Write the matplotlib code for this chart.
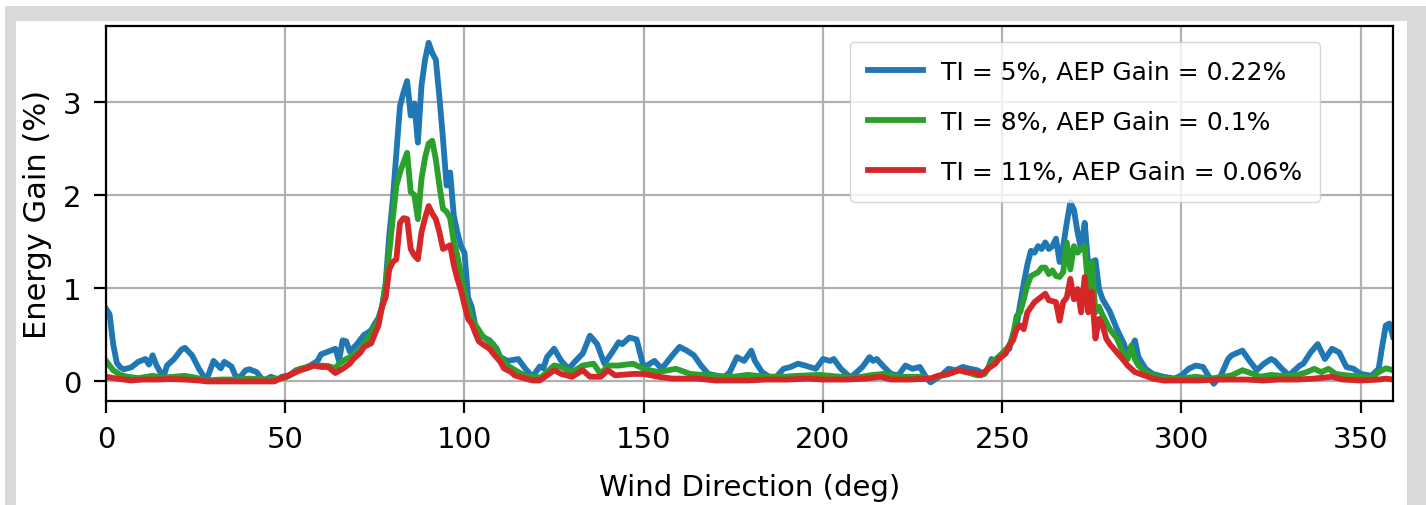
#!/usr/bin/env python3

import matplotlib
matplotlib.use("Agg")
import matplotlib.pyplot as plt
from matplotlib.patches import Rectangle


WIDTH_PX = 1426
HEIGHT_PX = 506

# Energy gain (%) per wind direction (deg), one series per turbulence intensity
TI5_DIR = [
    0, 1, 2, 3, 4, 5, 7, 9, 11, 12, 13, 14, 16, 17, 19, 21, 22, 24, 26, 28,
    30, 32, 33, 35, 36, 37, 39, 40, 42, 43, 44, 46, 48, 49, 51, 53, 55, 57,
    59, 60, 62, 64, 65, 66, 67, 68, 70, 72, 73, 74, 75, 76, 77, 78, 79, 80,
    81, 82, 83, 84, 85, 86, 87, 88, 89, 90, 91, 92, 93, 94, 95, 96, 97, 98,
    99, 100, 101, 102, 103, 104, 105, 107, 109, 110, 112, 115, 117, 119, 121,
    122, 123, 125, 127, 129, 131, 133, 135, 137, 139, 141, 143, 144, 146, 148,
    150, 153, 155, 158, 160, 162, 164, 166, 168, 170, 172, 174, 176, 178, 180,
    181, 183, 185, 187, 189, 191, 193, 195, 198, 200, 202, 203, 205, 207, 208,
    211, 213, 214, 215, 217, 219, 221, 223, 225, 227, 229, 230, 233, 235, 237,
    239, 241, 243, 245, 246, 247, 248, 250, 252, 253, 254, 255, 256, 257, 258,
    259, 260, 261, 262, 263, 264, 265, 266, 267, 268, 269, 270, 271, 272, 273,
    274, 275, 276, 277, 278, 280, 282, 284, 285, 286, 287, 288, 290, 292, 295,
    298, 300, 302, 304, 306, 308, 309, 311, 313, 314, 317, 319, 321, 323, 325,
    326, 328, 330, 333, 334, 336, 338, 340, 342, 344, 346, 348, 350, 353, 355,
    356, 357, 358, 359,
]
TI5_GAIN = [
    0.78, 0.72, 0.40, 0.20, 0.15, 0.13, 0.15, 0.21, 0.24, 0.18, 0.28, 0.18,
    0.04, 0.17, 0.24, 0.34, 0.36, 0.28, 0.13, 0.01, 0.22, 0.14, 0.21, 0.16,
    0.07, 0.03, 0.12, 0.13, 0.10, 0.05, 0.01, 0.05, 0.02, 0.05, 0.06, 0.12,
    0.14, 0.17, 0.22, 0.29, 0.32, 0.35, 0.22, 0.44, 0.43, 0.32, 0.40, 0.50,
    0.52, 0.55, 0.62, 0.68, 0.80, 1.05, 1.56, 1.95, 2.45, 2.95, 3.10, 3.22,
    2.85, 2.98, 2.56, 3.17, 3.45, 3.63, 3.52, 3.45, 3.05, 2.60, 2.10, 2.24,
    1.78, 1.60, 1.45, 1.38, 0.90, 0.80, 0.60, 0.50, 0.48, 0.44, 0.35, 0.26,
    0.22, 0.24, 0.135, 0.05, 0.16, 0.14, 0.26, 0.35, 0.22, 0.135, 0.22, 0.30,
    0.49, 0.40, 0.19, 0.30, 0.42, 0.40, 0.47, 0.45, 0.15, 0.22, 0.135, 0.28,
    0.37, 0.33, 0.28, 0.17, 0.08, 0.065, 0.03, 0.10, 0.26, 0.22, 0.33, 0.22,
    0.10, 0.05, 0.05, 0.135, 0.155, 0.19, 0.17, 0.135, 0.24, 0.22, 0.24,
    0.135, 0.065, 0.05, 0.155, 0.26, 0.22, 0.24, 0.155, 0.08, 0.065, 0.17,
    0.135, 0.155, 0.03, -0.01, 0.065, 0.135, 0.12, 0.155, 0.135, 0.12, 0.08,
    0.135, 0.24, 0.19, 0.30, 0.35, 0.51, 0.60, 0.83, 1.05, 1.25, 1.40, 1.38,
    1.45, 1.42, 1.49, 1.42, 1.45, 1.53, 1.28, 1.45, 1.70, 1.92, 1.84, 1.60,
    1.42, 1.70, 1.24, 1.28, 1.30, 0.99, 0.88, 0.75, 0.56, 0.40, 0.26, 0.35,
    0.44, 0.26, 0.135, 0.08, 0.05, 0.03, 0.065, 0.135, 0.17, 0.155, 0.03,
    -0.025, 0.065, 0.24, 0.28, 0.33, 0.22, 0.12, 0.19, 0.24, 0.22, 0.135,
    0.065, 0.17, 0.19, 0.31, 0.40, 0.24, 0.35, 0.31, 0.155, 0.135, 0.08, 0.06,
    0.135, 0.38, 0.60, 0.62, 0.48,
]

TI8_DIR = [
    0, 1, 2, 4, 6, 9, 13, 16, 19, 22, 25, 28, 32, 36, 40, 44, 48, 50, 52, 54,
    56, 58, 60, 62, 64, 65, 67, 69, 70, 71, 72, 74, 75, 76, 77, 78, 79, 80,
    81, 82, 83, 84, 85, 86, 87, 88, 89, 90, 91, 92, 93, 94, 95, 96, 97, 98,
    99, 100, 101, 102, 104, 105, 107, 108, 110, 112, 115, 117, 119, 121, 122,
    125, 127, 130, 133, 136, 138, 140, 143, 147, 150, 154, 159, 163, 168, 175,
    179, 184, 189, 193, 199, 205, 209, 214, 217, 221, 227, 230, 233, 235, 238,
    240, 243, 245, 247, 250, 252, 253, 254, 255, 256, 257, 258, 260, 261, 262,
    263, 264, 265, 266, 267, 268, 269, 270, 271, 272, 273, 274, 275, 276, 277,
    278, 280, 282, 284, 285, 286, 287, 288, 289, 290, 292, 295, 300, 304, 308,
    311, 314, 317, 320, 322, 325, 328, 332, 335, 337, 339, 341, 343, 346, 350,
    353, 355, 357, 359,
]
TI8_GAIN = [
    0.22, 0.17, 0.12, 0.07, 0.05, 0.035, 0.06, 0.04, 0.05, 0.06, 0.04, 0.01,
    0.02, 0.02, 0.03, 0.02, 0.03, 0.04, 0.08, 0.135, 0.15, 0.17, 0.17, 0.165,
    0.14, 0.19, 0.24, 0.28, 0.31, 0.35, 0.40, 0.52, 0.58, 0.66, 0.80, 1.03,
    1.38, 1.75, 2.10, 2.24, 2.35, 2.45, 2.03, 2.00, 1.74, 2.17, 2.40, 2.55,
    2.58, 2.38, 2.10, 1.85, 1.82, 1.75, 1.50, 1.35, 1.15, 0.96, 0.80, 0.67,
    0.55, 0.49, 0.42, 0.40, 0.26, 0.17, 0.10, 0.06, 0.05, 0.04, 0.065, 0.17,
    0.155, 0.10, 0.17, 0.19, 0.08, 0.17, 0.17, 0.19, 0.135, 0.10, 0.135, 0.08,
    0.065, 0.05, 0.07, 0.05, 0.05, 0.06, 0.07, 0.05, 0.04, 0.07, 0.08, 0.05,
    0.05, 0.03, 0.06, 0.08, 0.12, 0.10, 0.065, 0.08, 0.20, 0.30, 0.385, 0.49,
    0.70, 0.74, 0.88, 1.03, 1.13, 1.17, 1.22, 1.22, 1.15, 1.19, 1.13, 1.12,
    1.17, 1.49, 1.20, 1.45, 1.38, 1.42, 1.45, 0.99, 1.28, 0.74, 0.80, 0.71,
    0.56, 0.46, 0.28, 0.24, 0.385, 0.24, 0.17, 0.135, 0.10, 0.065, 0.03, 0.03,
    0.05, 0.03, 0.045, 0.065, 0.12, 0.08, 0.05, 0.07, 0.06, 0.065, 0.10,
    0.135, 0.10, 0.135, 0.08, 0.065, 0.05, 0.04, 0.10, 0.14, 0.12,
]

TI11_DIR = [
    0, 3, 7, 10, 14, 18, 22, 26, 28, 32, 36, 40, 44, 47, 48, 50, 53, 55, 56,
    58, 60, 62, 63, 64, 66, 68, 69, 71, 72, 74, 75, 76, 77, 78, 79, 80, 81,
    82, 83, 84, 85, 86, 87, 88, 89, 90, 91, 92, 93, 94, 95, 96, 97, 98, 99,
    100, 101, 102, 103, 104, 105, 107, 108, 110, 111, 113, 114, 117, 119, 121,
    123, 125, 127, 130, 133, 135, 138, 140, 142, 147, 150, 154, 158, 165, 170,
    175, 179, 184, 190, 196, 200, 206, 212, 216, 219, 224, 230, 232, 235, 238,
    240, 242, 244, 246, 248, 249, 251, 252, 253, 254, 255, 256, 257, 259, 260,
    262, 263, 265, 266, 267, 268, 269, 270, 271, 272, 273, 274, 275, 276, 277,
    278, 279, 280, 282, 284, 285, 287, 290, 292, 295, 300, 305, 310, 314, 318,
    323, 327, 332, 337, 342, 345, 350, 355, 357, 359,
]
TI11_GAIN = [
    0.05, 0.03, 0.01, 0.02, 0.02, 0.025, 0.02, 0.01, 0.0, 0.0, 0.0, 0.0, 0.0,
    0.0, 0.02, 0.05, 0.10, 0.13, 0.14, 0.17, 0.155, 0.155, 0.12, 0.09, 0.135,
    0.19, 0.24, 0.31, 0.37, 0.41, 0.51, 0.60, 0.80, 0.90, 1.20, 1.28, 1.31,
    1.70, 1.75, 1.74, 1.42, 1.35, 1.31, 1.60, 1.75, 1.88, 1.80, 1.74, 1.60,
    1.42, 1.44, 1.46, 1.25, 1.10, 0.98, 0.82, 0.67, 0.62, 0.52, 0.43, 0.40,
    0.35, 0.30, 0.21, 0.14, 0.10, 0.065, 0.03, 0.01, 0.01, 0.065, 0.12, 0.08,
    0.05, 0.12, 0.05, 0.05, 0.12, 0.065, 0.08, 0.08, 0.05, 0.03, 0.03, 0.01,
    0.01, 0.01, 0.02, 0.02, 0.03, 0.02, 0.02, 0.03, 0.05, 0.02, 0.02, 0.03,
    0.06, 0.08, 0.12, 0.10, 0.10, 0.065, 0.135, 0.19, 0.24, 0.30, 0.39, 0.44,
    0.56, 0.60, 0.56, 0.74, 0.85, 0.88, 0.94, 0.87, 0.85, 0.65, 0.85, 0.90,
    1.10, 0.88, 0.99, 0.74, 1.12, 0.74, 0.96, 0.46, 0.67, 0.60, 0.46, 0.40,
    0.31, 0.22, 0.17, 0.10, 0.06, 0.03, 0.01, 0.01, 0.01, 0.02, 0.02, 0.02,
    0.01, 0.02, 0.02, 0.03, 0.05, 0.02, 0.01, 0.02, 0.03, 0.02,
]

SERIES_LABELS = [
    "TI = 5%, AEP Gain = 0.22%",
    "TI = 8%, AEP Gain = 0.1%",
    "TI = 11%, AEP Gain = 0.06%",
]
SERIES_COLORS = ["tab:blue", "tab:green", "tab:red"]

X_TICKS = [0, 50, 100, 150, 200, 250, 300, 350]
Y_TICKS = [0, 1, 2, 3]


def add_frame(fig) -> None:
    """Draw the light grey frame around the plotting area."""
    grey = "#d9d9d9"
    # (x, y, w, h) in pixels from the top-left corner
    bands = [
        (5, 7, 1421, 15, grey),
        (5, 7, 11, 499, grey),
        (1407, 7, 19, 499, grey),
    ]
    for x, y, w, h, color in bands:
        fig.add_artist(Rectangle(
            (x / WIDTH_PX, 1 - (y + h) / HEIGHT_PX),
            w / WIDTH_PX, h / HEIGHT_PX,
            transform=fig.transFigure, facecolor=color,
            edgecolor="none", zorder=-10,
        ))


def main() -> None:
    fig = plt.figure(figsize=(WIDTH_PX / 100, HEIGHT_PX / 100), dpi=100)
    fig.patch.set_facecolor("white")
    add_frame(fig)

    ax = fig.add_axes([106 / WIDTH_PX, 1 - 402 / HEIGHT_PX,
                       1287 / WIDTH_PX, 375 / HEIGHT_PX])

    series = [
        (TI5_DIR, TI5_GAIN),
        (TI8_DIR, TI8_GAIN),
        (TI11_DIR, TI11_GAIN),
    ]
    for (wd, gain), label, color in zip(series, SERIES_LABELS, SERIES_COLORS):
        ax.plot(wd, gain, color=color, lw=4.2, label=label)

    ax.set_xlim(0, 359)
    ax.set_ylim(-0.21, 3.81)
    ax.set_xticks(X_TICKS)
    ax.set_yticks(Y_TICKS)
    ax.grid(True, color="#b0b0b0", lw=1.6)

    ax.tick_params(labelsize=21, length=8.5, width=1.6, pad=9)
    for spine in ax.spines.values():
        spine.set_linewidth(1.6)

    ax.set_xlabel("Wind Direction (deg)", fontsize=21, labelpad=14)
    ax.set_ylabel("Energy Gain (%)", fontsize=22, labelpad=8)

    ax.legend(
        loc="upper right", bbox_to_anchor=(0.943, 0.958),
        borderaxespad=0, fontsize=18, handlelength=2.2,
        handletextpad=0.7, labelspacing=1.04, borderpad=0.72,
        framealpha=0.8, edgecolor="0.8",
    )

    fig.savefig("out.png", dpi=100, facecolor=fig.get_facecolor())
    plt.close(fig)


if __name__ == "__main__":
    main()
